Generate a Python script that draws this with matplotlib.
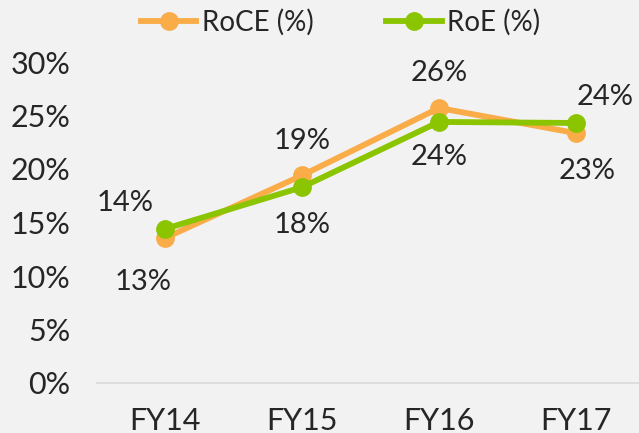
import numpy as np
import matplotlib
matplotlib.use("Agg")
import matplotlib.pyplot as plt

# data
years = ["FY14", "FY15", "FY16", "FY17"]
roce = [13.55, 19.4, 25.7, 23.35]
roe = [14.4, 18.3, 24.4, 24.3]
roce_labels = ["13%", "19%", "26%", "23%"]
roe_labels = ["14%", "18%", "24%", "24%"]

ORANGE = "#F9AC48"
GREEN = "#8BC400"
BG = "#F2F2F2"
TEXT = "#262626"

plt.rcParams["font.family"] = ["Lato", "DejaVu Sans"]

fig = plt.figure(figsize=(6.39, 4.33), dpi=100, facecolor=BG)
ax = fig.add_axes([96.5 / 639, 1 - 383 / 433, 548 / 639, 321 / 433])
ax.set_facecolor(BG)

x = np.arange(len(years))
ax.plot(x, roce, color=ORANGE, lw=4.2, marker="o", ms=12.5, label="RoCE (%)", zorder=3)
ax.plot(x, roe, color=GREEN, lw=4.2, marker="o", ms=12.5, label="RoE (%)", zorder=4)

# data labels, offsets in points
roce_off = [(-16, -32), (0, 25), (0, 25), (8, -27)]
roe_off = [(-29, 19), (0, -27), (0, -25), (21, 19)]
for i in range(len(years)):
    ax.annotate(roce_labels[i], (x[i], roce[i]), xytext=roce_off[i], textcoords="offset points",
                ha="center", va="center", fontsize=21, color=TEXT)
    ax.annotate(roe_labels[i], (x[i], roe[i]), xytext=roe_off[i], textcoords="offset points",
                ha="center", va="center", fontsize=21, color=TEXT)

ax.set_xlim(-0.5, 3.5)
ax.set_ylim(0, 30)
ax.set_xticks(x)
ax.set_xticklabels(years)
ax.set_yticks(np.arange(0, 31, 5))
ax.set_yticklabels([f"{v}%" for v in range(0, 31, 5)])
ax.tick_params(axis="both", length=0, labelsize=22, colors=TEXT)
ax.tick_params(axis="y", pad=19)
ax.tick_params(axis="x", pad=17)

for side in ["top", "right", "left"]:
    ax.spines[side].set_visible(False)
ax.spines["bottom"].set_color("#D9D9D9")
ax.spines["bottom"].set_linewidth(1.2)

fig.legend(loc="center", bbox_to_anchor=(0.533, 0.949), ncol=2, frameon=False,
           fontsize=20, handlelength=2.0, handletextpad=0.2, columnspacing=2.6,
           labelcolor=TEXT)

fig.savefig("out.png", dpi=100, facecolor=BG)
